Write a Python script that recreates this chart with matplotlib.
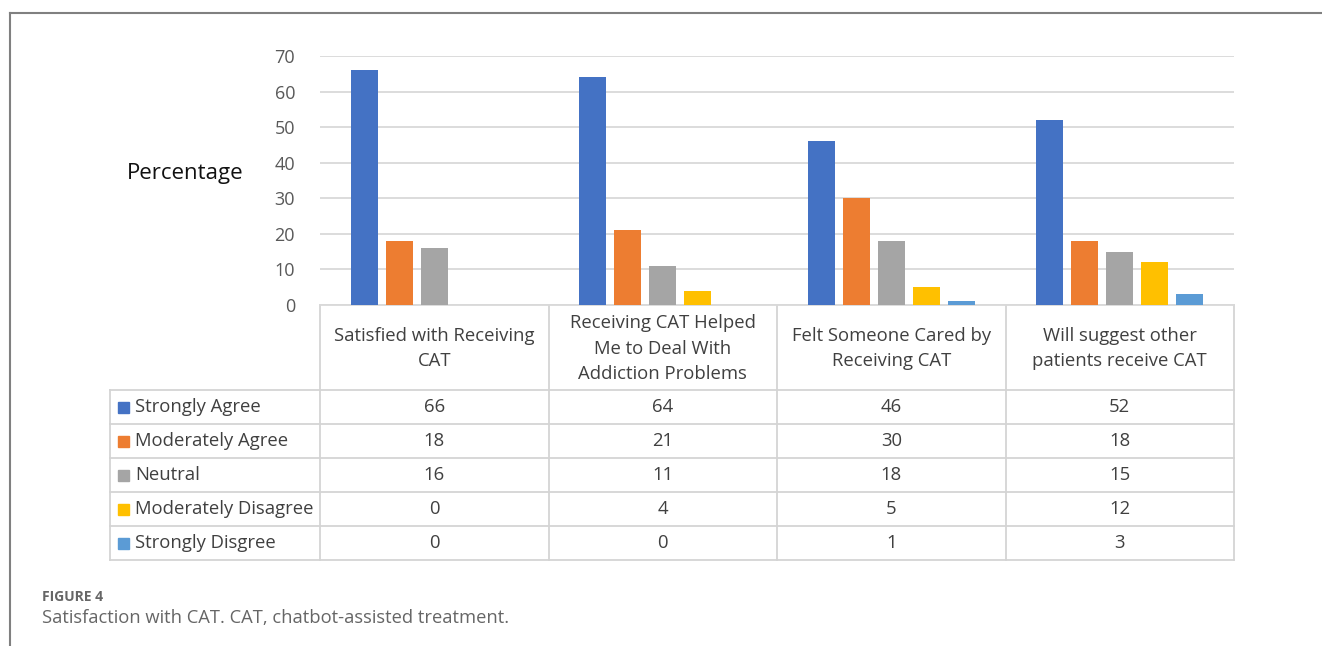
import numpy as np
import matplotlib.pyplot as plt

plt.rcParams['font.family'] = ['Open Sans', 'DejaVu Sans']

categories = ["Satisfied with Receiving\nCAT",
              "Receiving CAT Helped\nMe to Deal With\nAddiction Problems",
              "Felt Someone Cared by\nReceiving CAT",
              "Will suggest other\npatients receive CAT"]
responses = ["Strongly Agree", "Moderately Agree", "Neutral",
             "Moderately Disagree", "Strongly Disgree"]
strongly_agree = [66, 64, 46, 52]
moderately_agree = [18, 21, 30, 18]
neutral = [16, 11, 18, 15]
moderately_disagree = [0, 4, 5, 12]
strongly_disagree = [0, 0, 1, 3]
yticks = [0, 10, 20, 30, 40, 50, 60, 70]

series = [strongly_agree, moderately_agree, neutral, moderately_disagree, strongly_disagree]
colors = ["#4472C4", "#ED7D31", "#A5A5A5", "#FFC000", "#5B9BD5"]

W, H = 1322, 646
fig = plt.figure(figsize=(W / 100, H / 100), dpi=100)

# overlay in pixel coords for frame, table and captions
bg = fig.add_axes([0, 0, 1, 1])
bg.set_xlim(0, W)
bg.set_ylim(H, 0)
bg.axis('off')

# main bar axes
x0, x1, ytop, ybot = 320, 1234, 56, 305
ax = fig.add_axes([x0 / W, 1 - ybot / H, (x1 - x0) / W, (ybot - ytop) / H])
n = len(categories)
x = np.arange(n)
step = 0.153
width = 0.118
for i, (vals, c) in enumerate(zip(series, colors)):
    ax.bar(x + (i - 2) * step, vals, width, color=c, label=responses[i], zorder=3)
ax.set_xlim(-0.5, n - 0.5)
ax.set_ylim(0, 70)
ax.set_yticks(yticks)
ax.set_xticks([])
ax.grid(axis='y', color='#D9D9D9', linewidth=1.3, zorder=0)
for s in ['top', 'right', 'left']:
    ax.spines[s].set_visible(False)
ax.spines['bottom'].set_color('#D9D9D9')
ax.spines['bottom'].set_linewidth(1.3)
ax.tick_params(axis='y', length=0, pad=18, labelsize=13, labelcolor='#595959')
ax.patch.set_alpha(0)

fig.text(185 / W, 1 - 174 / H, "Percentage", fontsize=16, ha='center', va='center', color='#111111')

# outer frame
bg.plot([10, W], [12.5, 12.5], color='#808080', lw=1.5)
bg.plot([10, 10], [12.5, H], color='#808080', lw=1.5)

# data table
col_edges = [x0 + (x1 - x0) * k / n for k in range(n + 1)]
row_edges = [390, 424, 458, 492, 526, 560]
lc = '#D4D4D4'
for xe in col_edges:
    bg.plot([xe, xe], [ybot, row_edges[-1]], color=lc, lw=1.3)
bg.plot([110, 110], [row_edges[0], row_edges[-1]], color=lc, lw=1.3)
for ye in row_edges:
    bg.plot([110, x1], [ye, ye], color=lc, lw=1.3)

fs = 13.3
for k, cat in enumerate(categories):
    xc = (col_edges[k] + col_edges[k + 1]) / 2
    bg.text(xc, (ybot + row_edges[0]) / 2 + 1, cat, ha='center', va='center',
            fontsize=fs, color='#404040', linespacing=1.55)

for r, (lab, vals, c) in enumerate(zip(responses, series, colors)):
    yc = (row_edges[r] + row_edges[r + 1]) / 2
    bg.add_patch(plt.Rectangle((118, yc - 5), 11, 11, color=c))
    bg.text(135, yc, lab, ha='left', va='center', fontsize=fs, color='#404040')
    for k, v in enumerate(vals):
        xc = (col_edges[k] + col_edges[k + 1]) / 2
        bg.text(xc, yc, str(v), ha='center', va='center', fontsize=fs, color='#404040')

bg.text(42, 597, "FIGURE 4", ha='left', va='center', fontsize=10, color='#666666', fontweight='bold')
bg.text(42, 618, "Satisfaction with CAT. CAT, chatbot-assisted treatment.", ha='left', va='center',
        fontsize=13.2, color='#666666')

fig.savefig("out.png", dpi=100)
